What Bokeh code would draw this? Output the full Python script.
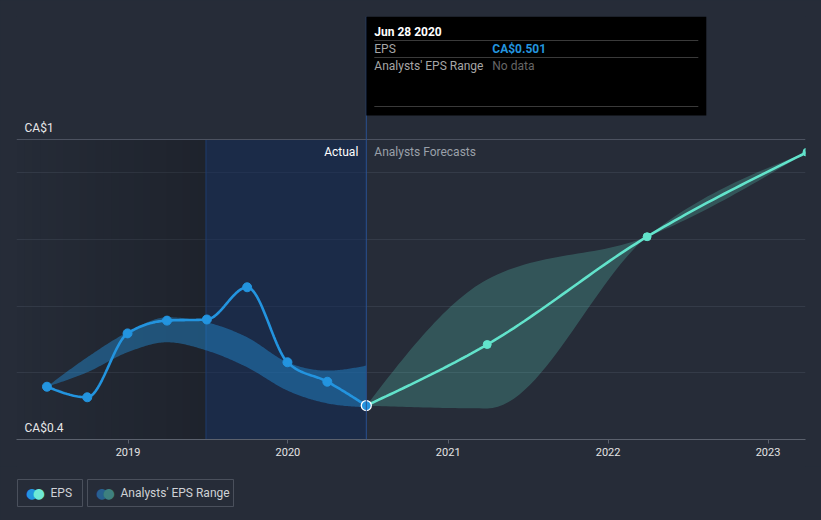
import numpy as np
import pandas as pd
from bokeh.plotting import figure
from bokeh.layouts import column
from bokeh.models import Range1d, FixedTicker, Span, BoxAnnotation, Label, GlobalInlineStyleSheet
from bokeh.embed import file_html
from bokeh.resources import INLINE

# ---------------- data ----------------
eps_dates = ["2018-06-30", "2018-09-30", "2018-12-31", "2019-03-31", "2019-06-30",
             "2019-09-30", "2019-12-31", "2020-03-31", "2020-06-28"]
eps_values = [0.535, 0.516, 0.631, 0.654, 0.656, 0.714, 0.579, 0.544, 0.501]
past_range_low = [0.535, 0.561, 0.597, 0.615, 0.600, 0.570, 0.528, 0.505, 0.498]
past_range_high = [0.535, 0.588, 0.633, 0.660, 0.651, 0.624, 0.579, 0.564, 0.573]

fc_dates = ["2020-06-28", "2021-03-31", "2022-03-31", "2023-03-31"]
fc_values = [0.501, 0.611, 0.805, 0.957]
fc_low = [0.501, 0.496, 0.805, 0.957]
fc_high = [0.501, 0.728, 0.805, 0.957]

year_ticks = ["2019", "2020", "2021", "2022", "2023"]
grid_values = [0.56, 0.68, 0.80, 0.92]
y_label_values = [0.98, 0.44]
y_label_texts = ["CA$1", "CA$0.4"]
ltm_start = "2019-06-28"
legend_labels = ["EPS", "Analysts' EPS Range"]

# ---------------- style ----------------
BG = "#262c38"
BLUE = "#2394df"
TEAL = "#62e3cb"
FONT = "Roboto"


def ms(d):
    return pd.Timestamp(d).value / 1e6


def smooth(xs, ys, n=30):
    """monotone-x cubic rendering of a series (d3 curveMonotoneX)"""
    xs = np.asarray(xs, float)
    ys = np.asarray(ys, float)
    m = len(xs)
    h = np.diff(xs)
    s = np.diff(ys) / h
    t = np.zeros(m)
    for i in range(1, m - 1):
        s0, s1 = s[i - 1], s[i]
        pp = (s0 * h[i] + s1 * h[i - 1]) / (h[i - 1] + h[i])
        sg0 = -1 if s0 < 0 else 1
        sg1 = -1 if s1 < 0 else 1
        t[i] = (sg0 + sg1) * min(abs(s0), abs(s1), 0.5 * abs(pp))
    if m > 2:
        t[0] = (3 * s[0] - t[1]) / 2
        t[-1] = (3 * s[-1] - t[-2]) / 2
    else:
        t[:] = s[0]
    ox, oy = [], []
    for i in range(m - 1):
        u = np.linspace(0, 1, n, endpoint=(i == m - 2))
        h00 = 2 * u**3 - 3 * u**2 + 1
        h10 = u**3 - 2 * u**2 + u
        h01 = -2 * u**3 + 3 * u**2
        h11 = u**3 - u**2
        ox.extend(xs[i] + u * h[i])
        oy.extend(h00 * ys[i] + h10 * h[i] * t[i] + h01 * ys[i + 1] + h11 * h[i] * t[i + 1])
    return np.array(ox), np.array(oy)


# scale geometry
MS_PER_PX = 365.25 * 86400000 / 160
Y_PER_PX = 0.0018
x0 = ms("2019-01-01") - 111.5 * MS_PER_PX
x1 = x0 + 789 * MS_PER_PX
y0 = 0.44
y1 = y0 + 423 * Y_PER_PX


def ypx(py):  # page pixel row -> data value (layout helper for annotations)
    return y0 + (439 - py) * Y_PER_PX


p = figure(width=821, height=466, x_axis_type="datetime",
           x_range=Range1d(x0, x1), y_range=Range1d(y0, y1),
           output_backend="svg", toolbar_location=None,
           min_border_left=16, min_border_right=16, min_border_top=16, min_border_bottom=27,
           background_fill_color=BG, border_fill_color=BG, outline_line_color=None)
p.stylesheets = [GlobalInlineStyleSheet(css="body{background:%s;}" % BG)]

p.yaxis.visible = False
p.xgrid.visible = False
p.ygrid.ticker = FixedTicker(ticks=grid_values)
p.ygrid.grid_line_color = "#343b48"
p.ygrid.grid_line_width = 1

year_ms = [ms(y + "-01-01") for y in year_ticks]
p.xaxis.ticker = FixedTicker(ticks=year_ms)
p.xaxis.major_label_overrides = {v: t for v, t in zip(year_ms, year_ticks)}
p.xaxis.axis_line_color = "#5b616d"
p.xaxis.major_tick_line_color = "#5b616d"
p.xaxis.major_tick_out = 4
p.xaxis.major_tick_in = 0
p.xaxis.minor_tick_line_color = None
p.xaxis.major_label_text_color = "#e4e4e4"
p.xaxis.major_label_text_font = FONT
p.xaxis.major_label_text_font_size = "11px"
p.xaxis.major_label_standoff = 4

# ---- background regions ----
ltm_ms = ms(ltm_start)
last_ms = ms(eps_dates[-1])
nstrip = 24
edges = np.linspace(x0, ltm_ms, nstrip + 1)
p.quad(left=edges[:-1], right=edges[1:], bottom=y_label_values[1], top=y_label_values[0],
       fill_color="black", fill_alpha=np.linspace(0.01, 0.2, nstrip), line_color=None)
p.quad(left=[ltm_ms], right=[last_ms], bottom=[y_label_values[1]], top=[y_label_values[0]],
       fill_color="#0f2a58", fill_alpha=0.5, line_color=None)
p.segment(x0=[ltm_ms], y0=[y_label_values[1]], x1=[ltm_ms], y1=[y_label_values[0]],
          line_color="#1f3d6c", line_width=1)

p.add_layout(Span(location=y_label_values[0], dimension="width", line_color="#4c5260", line_width=1))
p.add_layout(Span(location=last_ms, dimension="height", line_color="#2a5190", line_width=1))

# ---- bands ----
ex = [ms(d) for d in eps_dates]
fx = [ms(d) for d in fc_dates]
bx, blo = smooth(ex, past_range_low)
_, bhi = smooth(ex, past_range_high)
p.varea(x=bx, y1=blo, y2=bhi, fill_color=BLUE, fill_alpha=0.42)
fbx, flo = smooth(fx, fc_low)
_, fhi = smooth(fx, fc_high)
p.varea(x=fbx, y1=flo, y2=fhi, fill_color="#64e9d0", fill_alpha=0.22)

# ---- lines ----
lx, ly = smooth(ex, eps_values)
p.line(lx, ly, line_color=BLUE, line_width=2.6)
flx, fly = smooth(fx, fc_values)
p.line(flx, fly, line_color=TEAL, line_width=2.6)
p.scatter(fx[1:], fc_values[1:], size=8, fill_color=TEAL, line_color=TEAL)
p.scatter(ex[:-1], eps_values[:-1], size=9, fill_color=BLUE, line_color=BLUE)
p.scatter(ex[-1:], eps_values[-1:], size=10, fill_color=BLUE, line_color="white", line_width=1.3)

# ---- texts in plot ----
for v, t in zip(y_label_values, y_label_texts):
    p.add_layout(Label(x=x0, y=v, x_offset=8, y_offset=12, text=t, text_baseline="middle",
                       text_color="#e8e8e8", text_font=FONT, text_font_size="12px"))
p.add_layout(Label(x=last_ms, y=y_label_values[0], x_offset=-8, y_offset=-12, text="Actual",
                   text_align="right", text_baseline="middle", text_color="#ffffff",
                   text_font=FONT, text_font_size="12px"))
p.add_layout(Label(x=last_ms, y=y_label_values[0], x_offset=8, y_offset=-12, text="Analysts Forecasts",
                   text_align="left", text_baseline="middle", text_color="#9aa0a9",
                   text_font=FONT, text_font_size="12px"))

# ---- tooltip ----
tt_right = last_ms + 340 * MS_PER_PX
p.add_layout(BoxAnnotation(left=last_ms, right=tt_right, top=y1, bottom=ypx(115),
                           fill_color="black", fill_alpha=1.0, line_alpha=0))
for py in [40, 57, 106]:
    p.add_layout(BoxAnnotation(left=last_ms + 8 * MS_PER_PX, right=last_ms + 332 * MS_PER_PX,
                               top=ypx(py - 0.5), bottom=ypx(py + 0.5),
                               fill_color="#3a3a3a", fill_alpha=1.0, line_alpha=0))
tt_date = pd.Timestamp(eps_dates[-1]).strftime("%b %d %Y")
tt_items = [
    (tt_date, 8, 31, "#ffffff", "bold"),
    ("EPS", 8, 48, "#a6a6a6", "normal"),
    ("CA$%.3f" % eps_values[-1], 126, 48, BLUE, "bold"),
    ("Analysts' EPS Range", 8, 65, "#a6a6a6", "normal"),
    ("No data", 126, 65, "#666666", "normal"),
]
for t, dx, py, col, fs in tt_items:
    p.add_layout(Label(x=last_ms, y=ypx(py), x_offset=dx, text=t, text_baseline="middle",
                       text_color=col, text_font=FONT, text_font_size="12px",
                       text_font_style=fs))

# ---- legend strip (pixel-space panel below the chart, frame aligned with main frame) ----
LH = 54
leg = figure(width=821, height=LH, x_range=Range1d(16, 805), y_range=Range1d(0, LH),
             output_backend="svg", toolbar_location=None,
             x_axis_location=None, y_axis_location=None,
             min_border_left=16, min_border_right=16, min_border_top=0, min_border_bottom=0,
             background_fill_color=BG, border_fill_color=BG, outline_line_color=None)
leg.grid.visible = False
boxes = [(17, 82), (87, 233)]
icon_cols = [(BLUE, "#6ee8d6"), ("#28608f", "#3e807f")]
for (bl, br), t, (c1, c2) in zip(boxes, legend_labels, icon_cols):
    leg.add_layout(BoxAnnotation(left=bl, right=br, bottom=LH - 40, top=LH - 13,
                                 fill_alpha=0, line_color="#4a505c", line_width=1, line_alpha=1))
    leg.add_layout(Label(x=bl + 33, y=LH - 26.5, text=t, text_baseline="middle",
                         text_color="#cfd2d6", text_font=FONT, text_font_size="12px"))
    leg.add_layout(Label(x=bl + 14.7, y=LH - 26.3, text="\u25cf", text_align="center",
                         text_baseline="middle", text_color=c1,
                         text_font="DejaVu Sans", text_font_size="14px"))
    leg.add_layout(Label(x=bl + 21.3, y=LH - 26.3, text="\u25cf", text_align="center",
                         text_baseline="middle", text_color=c2,
                         text_font="DejaVu Sans", text_font_size="14px"))

layout = column(p, leg, spacing=0)
open("out.html", "w").write(file_html(layout, INLINE))
